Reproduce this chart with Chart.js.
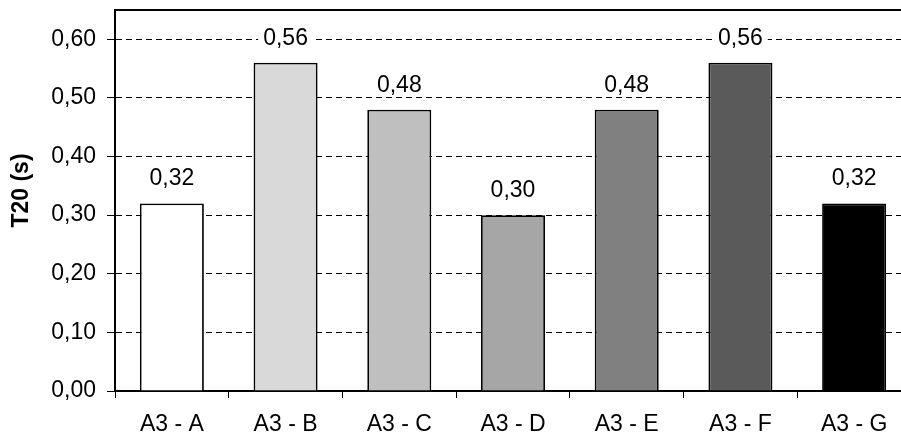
<!DOCTYPE html>
<html>
<head>
<meta charset="utf-8">
<script src="https://cdn.jsdelivr.net/npm/chart.js@4/dist/chart.umd.min.js"></script>
<style>
  html, body { margin: 0; padding: 0; background: #fff; overflow: hidden; }
</style>
</head>
<body>
<canvas id="grafico" width="912" height="439"></canvas>
<script>
// datos
const categorias = ['A3 - A', 'A3 - B', 'A3 - C', 'A3 - D', 'A3 - E', 'A3 - F', 'A3 - G'];
const valoresT20 = [0.32, 0.56, 0.48, 0.30, 0.48, 0.56, 0.32];
const coloresBarras = ['#ffffff', '#d9d9d9', '#bfbfbf', '#a6a6a6', '#808080', '#5a5a5a', '#000000'];
const ejeY = { min: 0, max: 0.65, paso: 0.1 };
const tituloY = 'T20 (s)';

const fuente = 'Liberation Sans, Arial, sans-serif';
const tam = 23;
const formato = v => v.toFixed(2).replace('.', ',');

// etiquetas con fondo blanco encima de cada barra
const etiquetasValor = {
    id: 'etiquetasValor',
    afterDatasetsDraw(chart) {
        const ctx = chart.ctx;
        const meta = chart.getDatasetMeta(0);
        ctx.save();
        ctx.font = tam + 'px ' + fuente;
        ctx.textAlign = 'center';
        ctx.textBaseline = 'alphabetic';
        meta.data.forEach((barra, i) => {
            const txt = formato(valoresT20[i]);
            const w = ctx.measureText(txt).width;
            const y = barra.y - 18;
            ctx.fillStyle = '#ffffff';
            ctx.fillRect(barra.x - w / 2 - 5, y - 20, w + 10, 25);
            ctx.fillStyle = '#000000';
            ctx.fillText(txt, barra.x, y);
        });
        ctx.restore();
    }
};

// borde superior + título del eje Y (un poco por encima del centro, como el original)
const marco = {
    id: 'marco',
    afterDraw(chart) {
        const { ctx, chartArea } = chart;
        ctx.save();
        ctx.strokeStyle = '#000';
        ctx.lineWidth = 2;
        ctx.beginPath();
        ctx.moveTo(chartArea.left - 1, chartArea.top);
        ctx.lineTo(chartArea.right + 5, chartArea.top);
        ctx.stroke();

        const cy = (chartArea.top + chartArea.bottom) / 2 - 10;
        ctx.translate(22, cy);
        ctx.rotate(-Math.PI / 2);
        ctx.font = 'bold ' + tam + 'px ' + fuente;
        ctx.fillStyle = '#000';
        ctx.textAlign = 'center';
        ctx.textBaseline = 'middle';
        ctx.fillText(tituloY, 0, 0);
        ctx.restore();
    }
};

new Chart(document.getElementById('grafico'), {
    type: 'bar',
    data: {
        labels: categorias,
        datasets: [{
            data: valoresT20,
            backgroundColor: coloresBarras,
            borderColor: '#000000',
            borderWidth: 1.8,
            categoryPercentage: 1,
            barPercentage: 0.563
        }]
    },
    options: {
        responsive: false,
        animation: false,
        layout: { padding: { top: 10, right: 1, left: 0, bottom: 0 } },
        plugins: {
            legend: { display: false },
            tooltip: { enabled: false }
        },
        scales: {
            x: {
                offset: true,
                afterFit: s => {
                    s.height = 48;
                    s.paddingLeft = 0;
                    s.paddingRight = 0;
                },
                grid: {
                    offset: true,
                    drawOnChartArea: false,
                    drawTicks: true,
                    tickLength: 7,
                    tickColor: '#000',
                    tickWidth: 1
                },
                border: { display: true, color: '#000', width: 2 },
                ticks: {
                    color: '#000',
                    padding: 13,
                    font: { family: fuente, size: tam }
                }
            },
            y: {
                min: ejeY.min,
                max: ejeY.max,
                afterFit: s => {
                    s.width = 115;
                    s.paddingTop = 0;
                    s.paddingBottom = 0;
                },
                afterBuildTicks: s => {
                    s.ticks = s.ticks.filter(t => t.value <= 0.6 + 1e-9);
                },
                grid: {
                    color: '#000',
                    lineWidth: 1,
                    drawTicks: true,
                    tickLength: 8,
                    tickColor: '#000',
                    tickWidth: 1
                },
                border: { display: true, color: '#000', width: 2, dash: [6, 4] },
                ticks: {
                    stepSize: ejeY.paso,
                    color: '#000',
                    padding: 11,
                    font: { family: fuente, size: tam },
                    callback: v => formato(v)
                }
            }
        }
    },
    plugins: [etiquetasValor, marco]
});
</script>
</body>
</html>
